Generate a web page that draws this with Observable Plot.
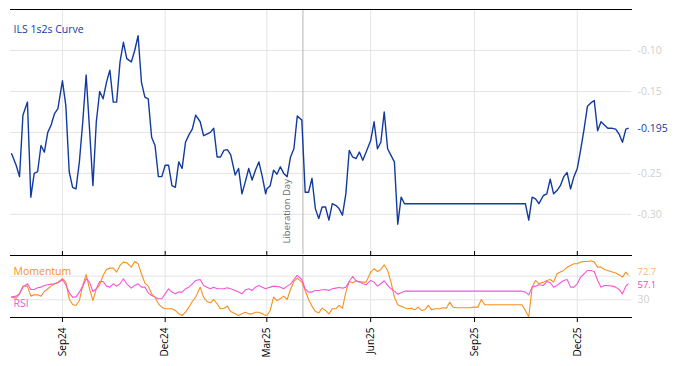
<!DOCTYPE html>
<html><head><meta charset="utf-8">
<script src="https://cdn.jsdelivr.net/npm/d3@7"></script>
<script src="https://cdn.jsdelivr.net/npm/@observablehq/plot@0.6"></script>
<style>
body{margin:0;background:#fff;}
#chart{position:relative;width:678px;height:366px;overflow:hidden;font-family:"Open Sans",sans-serif;}
#chart svg{position:absolute;left:0;overflow:visible;}
</style></head><body><div id="chart"></div>
<script>
const dates = [
"2024-07-18","2024-07-22","2024-07-25","2024-07-28",
"2024-08-01","2024-08-04","2024-08-07","2024-08-10","2024-08-13","2024-08-16","2024-08-19","2024-08-22","2024-08-25","2024-08-28",
"2024-09-01","2024-09-04","2024-09-07","2024-09-10","2024-09-13","2024-09-16","2024-09-19","2024-09-22","2024-09-25","2024-09-28",
"2024-10-01","2024-10-04","2024-10-07","2024-10-10","2024-10-13","2024-10-16","2024-10-19","2024-10-22","2024-10-25","2024-10-28",
"2024-11-01","2024-11-04","2024-11-07","2024-11-10","2024-11-13","2024-11-16","2024-11-19","2024-11-22","2024-11-25","2024-11-28",
"2024-12-01","2024-12-04","2024-12-07","2024-12-10","2024-12-13","2024-12-16","2024-12-19","2024-12-22","2024-12-25","2024-12-28",
"2025-01-01","2025-01-04","2025-01-07","2025-01-10","2025-01-13","2025-01-16","2025-01-19","2025-01-22","2025-01-25","2025-01-28",
"2025-02-01","2025-02-04","2025-02-07","2025-02-10","2025-02-13","2025-02-16","2025-02-19","2025-02-22","2025-02-25","2025-02-28",
"2025-03-01","2025-03-04","2025-03-07","2025-03-10","2025-03-13","2025-03-16","2025-03-19","2025-03-22","2025-03-25","2025-03-28",
"2025-04-01","2025-04-04","2025-04-07","2025-04-10","2025-04-13","2025-04-16","2025-04-19","2025-04-22","2025-04-25","2025-04-28",
"2025-05-01","2025-05-04","2025-05-07","2025-05-10","2025-05-13","2025-05-16","2025-05-19","2025-05-22","2025-05-25","2025-05-28",
"2025-06-01","2025-06-04","2025-06-07","2025-06-10","2025-06-13","2025-06-16","2025-06-19","2025-06-22","2025-06-25","2025-06-28",
"2025-07-01","2025-07-04","2025-07-07","2025-07-10","2025-07-13","2025-07-16","2025-07-19","2025-07-22","2025-07-25","2025-07-28",
"2025-08-01","2025-08-04","2025-08-07","2025-08-10","2025-08-13","2025-08-16","2025-08-19","2025-08-22","2025-08-25","2025-08-28",
"2025-09-01","2025-09-04","2025-09-07","2025-09-10","2025-09-13","2025-09-16","2025-09-19","2025-09-22","2025-09-25","2025-09-28",
"2025-10-01","2025-10-04","2025-10-07","2025-10-10","2025-10-13","2025-10-16","2025-10-19","2025-10-22","2025-10-25","2025-10-28",
"2025-11-01","2025-11-04","2025-11-07","2025-11-10","2025-11-13","2025-11-16","2025-11-19","2025-11-22","2025-11-25","2025-11-28",
"2025-12-01","2025-12-04","2025-12-07","2025-12-10","2025-12-13","2025-12-16","2025-12-19","2025-12-22","2025-12-25","2025-12-28",
"2026-01-01","2026-01-04","2026-01-07","2026-01-10","2026-01-13","2026-01-15"
];
const curve = [
-0.226,-0.240,-0.254,-0.179,
-0.163,-0.279,-0.250,-0.248,-0.216,-0.224,-0.200,-0.191,-0.177,-0.171,
-0.137,-0.167,-0.248,-0.267,-0.269,-0.236,-0.187,-0.130,-0.196,-0.265,
-0.187,-0.150,-0.159,-0.139,-0.124,-0.163,-0.163,-0.114,-0.090,-0.110,
-0.114,-0.100,-0.082,-0.139,-0.157,-0.159,-0.206,-0.216,-0.254,-0.254,
-0.240,-0.240,-0.265,-0.267,-0.236,-0.244,-0.212,-0.203,-0.196,-0.179,
-0.187,-0.204,-0.202,-0.200,-0.195,-0.230,-0.230,-0.222,-0.221,-0.227,
-0.252,-0.244,-0.275,-0.260,-0.244,-0.258,-0.246,-0.236,-0.254,-0.275,
-0.269,-0.265,-0.246,-0.251,-0.242,-0.250,-0.254,-0.230,-0.220,-0.180,
-0.185,-0.273,-0.273,-0.256,-0.293,-0.305,-0.291,-0.291,-0.307,-0.287,
-0.289,-0.293,-0.301,-0.275,-0.222,-0.230,-0.232,-0.224,-0.234,-0.224,
-0.210,-0.187,-0.220,-0.212,-0.175,-0.220,-0.228,-0.236,-0.312,-0.279,
-0.287,-0.287,-0.287,-0.287,-0.287,-0.287,-0.287,-0.287,-0.287,-0.287,
-0.287,-0.287,-0.287,-0.287,-0.287,-0.287,-0.287,-0.287,-0.287,-0.287,
-0.287,-0.287,-0.287,-0.287,-0.287,-0.287,-0.287,-0.287,-0.287,-0.287,
-0.287,-0.287,-0.287,-0.287,-0.287,-0.287,-0.307,-0.279,-0.281,-0.287,
-0.277,-0.275,-0.257,-0.275,-0.271,-0.265,-0.254,-0.249,-0.269,-0.254,
-0.244,-0.221,-0.196,-0.168,-0.164,-0.161,-0.198,-0.187,-0.191,-0.195,
-0.195,-0.196,-0.202,-0.212,-0.196,-0.195
];
const momentum = [
34.5,32.8,40.1,53.1,
53.1,36.2,38.4,38.4,36.2,44.1,48.6,53.1,57.1,59.9,
65.6,59.9,31.7,22.0,20.4,28.8,54.3,72.9,48.6,28.8,
48.6,55.4,71.2,81.4,83.6,83.6,76.9,88.2,93.8,92.7,
85.3,94.9,91.0,74.0,58.2,53.1,40.1,34.5,23.2,17.5,
14.7,14.7,14.7,11.9,6.2,3.4,9.0,17.5,27.1,34.5,
51.4,34.5,27.1,24.9,30.5,23.2,14.7,15.8,19.2,10.2,
6.2,3.4,6.2,9.0,6.2,6.2,9.0,9.0,6.2,3.4,
3.4,11.9,34.5,28.8,31.7,36.2,30.5,47.5,61.0,66.7,
59.9,45.8,30.5,19.2,10.2,7.9,15.8,11.9,6.2,14.7,
14.7,20.4,15.8,42.9,61.0,58.8,62.2,61.0,59.9,59.9,
76.9,82.5,78.0,81.4,89.3,79.7,59.9,34.5,21.5,19.2,
16.4,14.7,15.8,13.0,17.5,11.9,13.0,20.4,13.0,14.7,
14.7,16.4,15.8,26.0,17.5,16.4,16.4,16.4,16.4,16.4,
17.5,17.5,30.5,21.5,21.5,21.5,21.5,21.5,21.5,21.5,
21.5,21.5,21.5,21.5,21.5,11.9,1.0,51.4,62.7,57.1,
59.9,62.7,64.4,59.9,74.0,76.9,79.7,85.3,88.1,91.0,
91.0,93.8,94.9,94.9,96.1,93.8,85.3,85.3,81.4,79.7,
76.9,75.2,72.3,68.4,76.9,72.7
];
const rsi = [
34.5,36.2,40.1,51.4,
57.1,47.5,47.5,50.3,51.4,54.3,55.4,56.5,57.1,58.8,
63.9,55.4,41.8,34.5,35.0,43.0,53.1,65.6,59.9,44.1,
48.6,61.0,61.0,53.1,51.4,57.1,53.1,57.1,65.6,57.1,
49.7,54.3,57.1,51.4,51.4,41.8,37.3,34.5,31.7,31.7,
40.1,48.6,43.0,40.1,43.0,43.0,48.6,51.4,57.1,62.7,
64.4,54.3,51.4,48.6,51.4,48.6,48.6,48.6,50.3,48.6,
45.8,43.0,40.1,46.9,48.6,45.8,51.4,54.3,51.4,48.6,
49.7,51.4,53.1,52.5,51.4,48.6,53.1,56.5,64.4,71.2,
64.4,48.6,43.0,43.0,45.8,45.8,46.9,47.5,45.8,48.6,
49.7,50.9,49.7,51.4,61.0,69.5,62.2,59.9,57.1,55.4,
62.7,59.9,53.1,57.1,62.2,54.3,48.6,44.6,39.6,41.8,
44.6,44.6,44.6,44.6,44.6,44.6,44.6,44.6,44.6,44.6,
44.6,44.6,44.6,44.6,44.6,44.6,44.6,44.6,44.6,44.6,
44.6,44.6,44.6,44.6,44.6,44.6,44.6,44.6,44.6,44.6,
44.6,44.6,44.6,44.6,44.6,43.0,38.4,51.4,53.1,55.4,
54.3,61.0,58.8,51.4,54.3,58.8,62.7,64.4,51.4,51.4,
57.1,68.4,74.0,79.7,79.7,78.0,62.7,51.4,54.3,54.3,
53.1,51.4,47.5,40.1,53.1,57.1
];
const curveGridTicks = [-0.30,-0.25,-0.20,-0.15,-0.10];
const curveLabelTicks = [-0.30,-0.25,-0.15,-0.10];
const oscGridTicks = [30, 70];
const oscLabelTicks = [30];
const xTickDates = ["2024-09-01","2024-12-01","2025-03-01","2025-06-01","2025-09-01","2025-12-01"];
const xDomainDates = ["2024-07-17","2026-01-18"];
const eventDates = ["2025-04-02"];
const eventLabels = ["Liberation Day"];
const titleText = "ILS 1s2s Curve";
const seriesNames = ["Momentum","RSI"];

const parse = d3.utcParse("%Y-%m-%d");
const rows = dates.map((d,i)=>({date: parse(d), curve: curve[i], momentum: momentum[i], rsi: rsi[i]}));
const last = rows[rows.length-1];
const xTicks = xTickDates.map(parse);
const xDomain = xDomainDates.map(parse);
const events = eventDates.map((d,i)=>({date: parse(d), label: eventLabels[i]}));

const BLUE = "#123a9f", ORANGE = "#f7901e", PINK = "#f455d9", GRID = "#e4e4e4", LIGHT = "#cfcfcf";
const FONT = '"Open Sans", sans-serif';

const topPlot = Plot.plot({
  width: 678, height: 255,
  marginTop: 9, marginBottom: 1, marginLeft: 10, marginRight: 47,
  style: {fontFamily: FONT, fontSize: "10.5px", background: "transparent", overflow: "visible"},
  x: {type: "utc", domain: xDomain, axis: null},
  y: {domain: [-0.349, -0.05], axis: null},
  marks: [
    Plot.gridX(xTicks, {stroke: GRID, strokeOpacity: 1}),
    Plot.gridY(curveGridTicks, {stroke: GRID, strokeOpacity: 1}),
    Plot.axisY(curveLabelTicks, {anchor: "right", tickSize: 0, tickPadding: 6, tickFormat: d => d.toFixed(2), fill: LIGHT, label: null, fontSize: 10.5}),
    Plot.ruleX(events, {x: "date", stroke: "#b4b4b4"}),
    Plot.text(events, {x: "date", text: "label", frameAnchor: "bottom", rotate: -90, textAnchor: "start", dx: -13, dy: -11, fill: "#6a6a6a", fontSize: 9.5}),
    Plot.lineY(rows, {x: "date", y: "curve", stroke: BLUE, strokeWidth: 1.4}),
    Plot.text([last], {frameAnchor: "right", y: "curve", text: d => d.curve.toFixed(3), dx: 6, textAnchor: "start", fill: BLUE, fontSize: 10.5}),
    Plot.text([titleText], {frameAnchor: "top-left", dx: 3, dy: 16, textAnchor: "start", fill: BLUE, fontSize: 10.5}),
    Plot.frame({anchor: "top", stroke: "#000"})
  ]
});

const botPlot = Plot.plot({
  width: 678, height: 117,
  marginTop: 6, marginBottom: 49, marginLeft: 10, marginRight: 47,
  style: {fontFamily: FONT, fontSize: "10px", background: "transparent", overflow: "visible"},
  x: {type: "utc", domain: xDomain, axis: null},
  y: {domain: [0, 105], axis: null},
  marks: [
    Plot.gridX(xTicks, {stroke: GRID, strokeOpacity: 1}),
    Plot.gridY(oscGridTicks, {stroke: GRID, strokeOpacity: 1}),
    Plot.axisY(oscLabelTicks, {anchor: "right", tickSize: 0, tickPadding: 6, fill: LIGHT, label: null, fontSize: 10.5}),
    Plot.ruleX(events, {x: "date", stroke: "#b4b4b4"}),
    Plot.lineY(rows, {x: "date", y: "momentum", stroke: ORANGE, strokeWidth: 1.1}),
    Plot.lineY(rows, {x: "date", y: "rsi", stroke: PINK, strokeWidth: 1.1}),
    Plot.text([last], {frameAnchor: "right", y: "momentum", text: d => d.momentum.toFixed(1), dx: 6, dy: -2.5, textAnchor: "start", fill: "#f8b577", fontSize: 9.5}),
    Plot.text([last], {frameAnchor: "right", y: "rsi", text: d => d.rsi.toFixed(1), dx: 6, dy: 1.5, textAnchor: "start", fill: "#ee3fd0", fontSize: 9.5}),
    Plot.text([seriesNames[0]], {frameAnchor: "top-left", dx: 3, dy: 12, textAnchor: "start", fill: ORANGE, fontSize: 10.5}),
    Plot.text([seriesNames[1]], {frameAnchor: "bottom-left", dx: 3, dy: -11, textAnchor: "start", fill: PINK, fontSize: 10.5}),
    Plot.axisX(xTicks, {anchor: "bottom", tickSize: 5, tickPadding: 5, tickRotate: -90, tickFormat: d3.utcFormat("%b%y"), fill: "#000", stroke: "#000", label: null, fontSize: 10}),
    Plot.axisX(xTicks, {anchor: "top", tickSize: 5, tickFormat: () => "", stroke: "#000", label: null}),
    Plot.frame({anchor: "top", stroke: "#000"}),
    Plot.frame({anchor: "bottom", stroke: "#000"})
  ]
});

const chart = document.getElementById("chart");
topPlot.style.top = "0px";
botPlot.style.top = "249px";
chart.appendChild(topPlot);
chart.appendChild(botPlot);
</script>
</body></html>
